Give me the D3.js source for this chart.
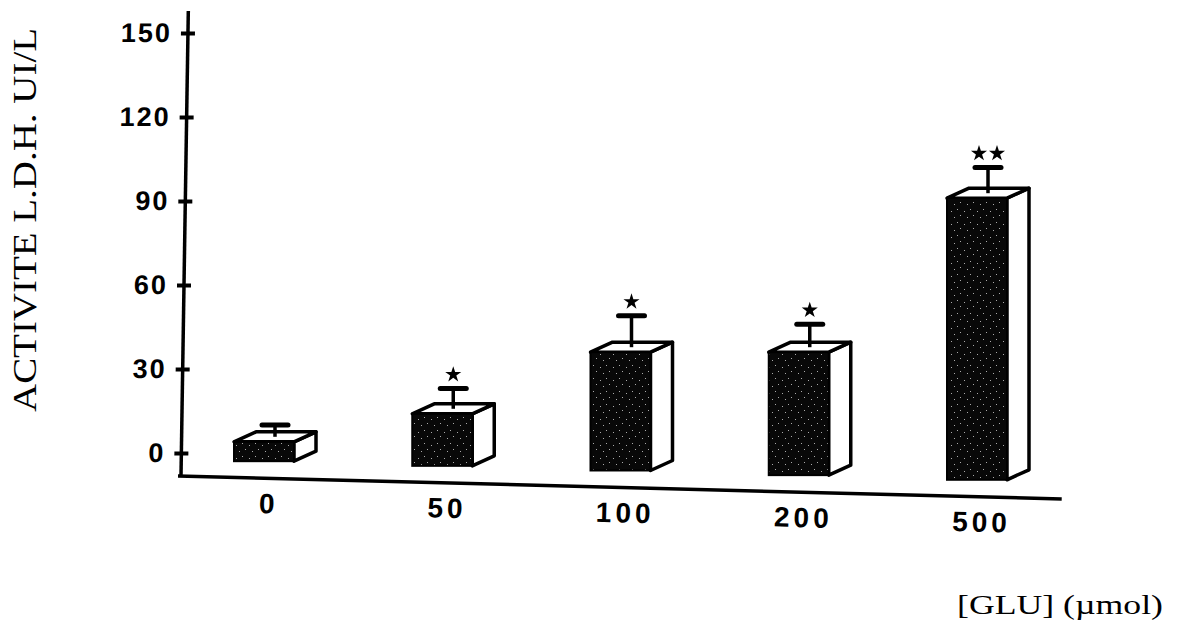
<!DOCTYPE html>
<html>
<head>
<meta charset="utf-8">
<script src="https://cdn.jsdelivr.net/npm/d3@7"></script>
<style>
  html, body { margin: 0; padding: 0; background: #fff; }
  svg { display: block; }
</style>
</head>
<body>
<svg id="chart" width="1180" height="630"></svg>
<script>
// LDH activity by glutamate concentration
const categories = ["0", "50", "100", "200", "500"];
const ldhValues = [4, 14, 36, 36, 91];
const ldhErrors = [6, 9, 13, 10, 11];
const starCounts = [0, 1, 1, 1, 2];
const yTickValues = [0, 30, 60, 90, 120, 150];
const yTitle = "ACTIVITE L.D.H. UI/L";
const xTitle = "[GLU] (\u00b5mol)";

const svg = d3.select("#chart");
const ink = "#000";

// stippled fill for the bar fronts
const defs = svg.append("defs");
const pat = defs.append("pattern")
  .attr("id", "stipple").attr("patternUnits", "userSpaceOnUse")
  .attr("width", 13).attr("height", 13);
pat.append("rect").attr("width", 13).attr("height", 13).attr("fill", "#080808");
[[2, 3], [8, 1], [5, 9], [11, 7]].forEach(([a, b]) =>
  pat.append("rect").attr("x", a).attr("y", b).attr("width", 1).attr("height", 1)
    .attr("fill", "#aaa"));

// scales
const y = d3.scaleLinear().domain([0, 150]).range([453, 33]);
const x = d3.scalePoint().domain(categories).range([264, 977]);

// x axis runs on a slight slope
const axisOrigin = [180, 476];
const axisLen = 882;
const axisRise = 23;
const theta = Math.atan2(axisRise, axisLen) * 180 / Math.PI;
const axisYAt = px => axisOrigin[1] + (px - axisOrigin[0]) * axisRise / axisLen;

// ---- y axis (slightly leaning) ----
const lean = -0.9;
const yAxisG = svg.append("g")
  .attr("transform", `translate(0,${axisOrigin[1]}) skewX(${lean}) translate(${axisOrigin[0] + 1},${-axisOrigin[1]})`);
yAxisG.append("line")
  .attr("x1", 0).attr("x2", 0).attr("y1", 11).attr("y2", axisOrigin[1] + 1)
  .attr("stroke", ink).attr("stroke-width", 3.5);
const yAxis = d3.axisLeft(y).tickValues(yTickValues).tickSize(7).tickPadding(11);
const yAx = yAxisG.append("g").call(yAxis);
yAx.select(".domain").remove();
yAx.selectAll(".tick line").attr("x1", 7).attr("stroke", ink).attr("stroke-width", 4);
yAx.selectAll(".tick text")
  .attr("fill", ink)
  .attr("font-family", "Liberation Sans, Arial, sans-serif")
  .attr("font-weight", "bold")
  .attr("font-size", 27)
  .attr("letter-spacing", 2)
  .attr("dx", 2);

// ---- x axis ----
const xAxisG = svg.append("g")
  .attr("transform", `translate(${axisOrigin[0]},${axisOrigin[1]}) rotate(${theta})`);
xAxisG.append("line")
  .attr("x1", -2).attr("x2", axisLen).attr("y1", 0).attr("y2", 0)
  .attr("stroke", ink).attr("stroke-width", 3.5);
const xAxisScale = x.copy().range(x.range().map(v => v - axisOrigin[0] + 3));
const xAx = xAxisG.append("g").call(d3.axisBottom(xAxisScale).tickSize(0).tickPadding(15));
xAx.select(".domain").remove();
xAx.selectAll(".tick text")
  .attr("fill", ink)
  .attr("font-family", "Liberation Sans, Arial, sans-serif")
  .attr("font-weight", "bold")
  .attr("font-size", 28)
  .attr("letter-spacing", 4)
  .attr("dx", 2);

// ---- 3D bars ----
const frontW = 60, depthX = 22, depthY = 10, lift = 17;
const rows = categories.map((c, i) => ({
  cat: c, value: ldhValues[i], err: ldhErrors[i], stars: starCounts[i]
}));

const bars = svg.append("g").selectAll("g.bar").data(rows).join("g").attr("class", "bar");
bars.each(function (d) {
  const g = d3.select(this);
  const cx = x(d.cat);
  const fl = cx - frontW / 2, fr = cx + frontW / 2;
  const ft = y(d.value);
  const fb = axisYAt(cx) - lift;

  // right side face
  g.append("polygon")
    .attr("points", [[fr, ft], [fr + depthX, ft - depthY], [fr + depthX, fb - depthY], [fr, fb]].join(" "))
    .attr("fill", "#fff").attr("stroke", ink).attr("stroke-width", 3.5).attr("stroke-linejoin", "round");
  // top face
  g.append("polygon")
    .attr("points", [[fl, ft], [fl + depthX, ft - depthY], [fr + depthX, ft - depthY], [fr, ft]].join(" "))
    .attr("fill", "#fff").attr("stroke", ink).attr("stroke-width", 3.5).attr("stroke-linejoin", "round");
  // front face
  g.append("rect")
    .attr("x", fl).attr("y", ft).attr("width", frontW).attr("height", Math.max(0, fb - ft))
    .attr("fill", "url(#stipple)").attr("stroke", ink).attr("stroke-width", 2);

  // error bar rising from the top face
  const sx = cx + depthX / 2;
  const capY = y(d.value + d.err);
  g.append("line")
    .attr("x1", sx).attr("x2", sx).attr("y1", ft - depthY / 2).attr("y2", capY)
    .attr("stroke", ink).attr("stroke-width", 3.5);
  g.append("line")
    .attr("x1", sx - 13).attr("x2", sx + 13).attr("y1", capY).attr("y2", capY)
    .attr("stroke", ink).attr("stroke-width", 5).attr("stroke-linecap", "round");

  // significance stars
  const star = d3.symbol().type(d3.symbolStar).size(80);
  for (let k = 0; k < d.stars; k++) {
    const off = (k - (d.stars - 1) / 2) * 18;
    g.append("path")
      .attr("d", star)
      .attr("transform", `translate(${sx + off},${capY - 14})`)
      .attr("fill", ink);
  }
});

// ---- titles ----
svg.append("text")
  .attr("transform", "translate(36,220) rotate(-90)")
  .attr("text-anchor", "middle")
  .attr("font-family", "Liberation Serif, Times New Roman, serif")
  .attr("font-size", 34)
  .attr("textLength", 384)
  .attr("lengthAdjust", "spacingAndGlyphs")
  .attr("fill", ink)
  .text(yTitle);

svg.append("text")
  .attr("x", 957).attr("y", 614)
  .attr("font-family", "Liberation Serif, Times New Roman, serif")
  .attr("font-size", 27)
  .attr("textLength", 206)
  .attr("lengthAdjust", "spacingAndGlyphs")
  .attr("fill", ink)
  .text(xTitle);
</script>
</body>
</html>
